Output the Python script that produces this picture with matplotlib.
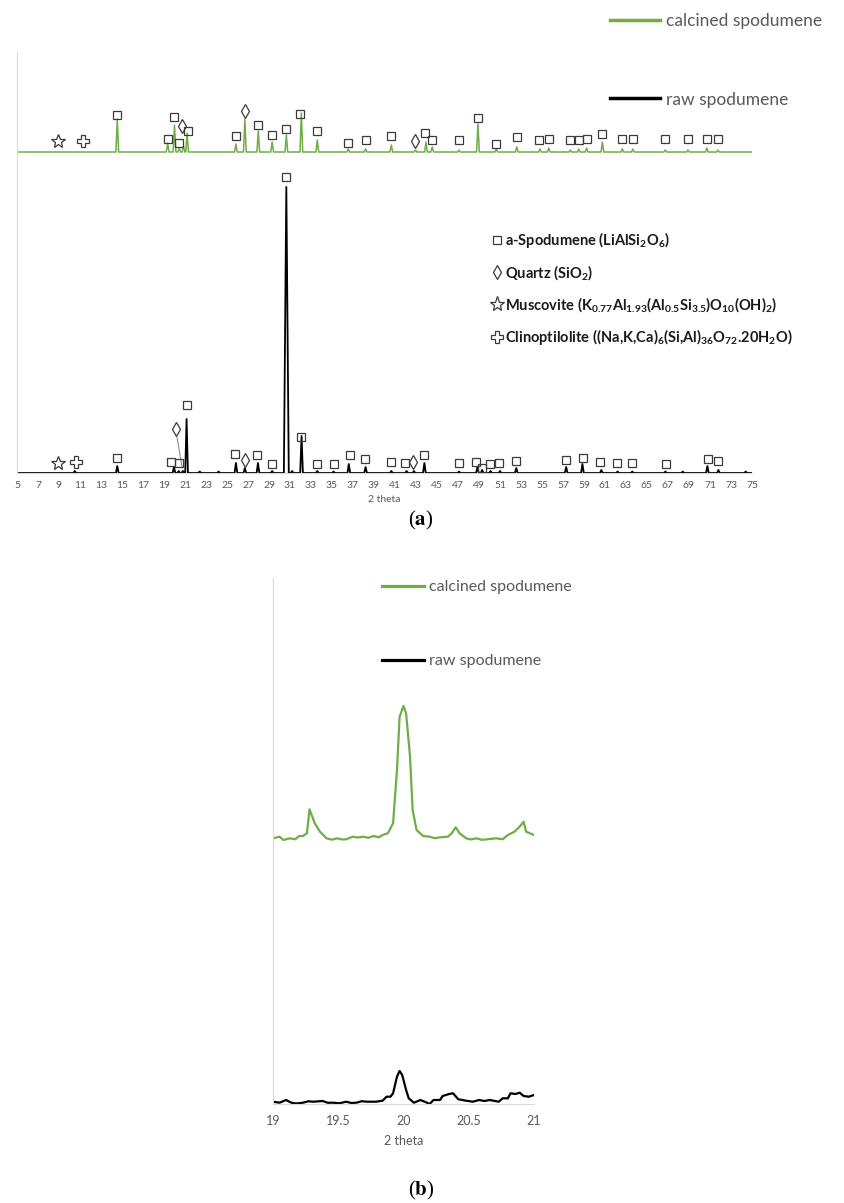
import matplotlib
matplotlib.use("Agg")
import matplotlib.pyplot as plt
from matplotlib.lines import Line2D

plt.rcParams['font.family'] = ['Lato', 'DejaVu Sans']
plt.rcParams['mathtext.fontset'] = 'custom'
plt.rcParams['mathtext.rm'] = 'Lato:bold'
plt.rcParams['mathtext.bf'] = 'Lato:bold'
plt.rcParams['mathtext.default'] = 'bf'

GREEN = '#70ad47'
AXIS = '#d9d9d9'
TXT = '#595959'
MARK = '#3a3a3a'

##############################################################################
# data: panel (a) full scan, peak positions (2 theta) and heights (a.u.)
##############################################################################

raw_pos = [10.5, 14.55, 19.95, 20.4, 20.8, 21.15, 22.4, 24.2, 25.85, 26.7, 27.95,
           29.3, 30.65, 31.2, 32.1, 33.6, 35.15, 36.6, 38.2, 40.65, 42.1, 42.8,
           43.8, 47.1, 48.85, 49.3, 50.1, 51.0, 52.55, 57.3, 58.85, 60.65, 62.2,
           63.6, 66.75, 68.4, 70.75, 71.8, 74.4]
raw_int = [2, 7, 6, 2, 2, 54, 1.5, 1.5, 10, 5, 10,
           2, 286, 2, 37, 2, 1.5, 9, 6, 2, 2, 2,
           10, 1.5, 6, 3, 2, 2, 5, 6, 9, 3, 1.5,
           1.5, 1.5, 1.5, 7, 3, 1.5]

calc_pos = [14.55, 19.35, 20.0, 20.45, 20.85, 21.2, 25.85, 26.7, 27.98, 29.3,
            30.65, 32.08, 33.6, 36.55, 38.2, 40.65, 42.95, 43.95, 44.55, 47.1,
            48.9, 50.65, 52.6, 54.8, 55.65, 57.7, 58.5, 59.25, 60.75, 62.65,
            63.65, 66.75, 68.9, 70.7, 71.75]
calc_int = [33, 9, 27, 4, 6, 19, 8, 33, 21, 10,
            17, 39, 12, 3, 3, 7, 2, 10, 5, 2,
            28, 3, 5, 3, 4, 2, 3, 4, 10, 3,
            3, 2, 2, 4, 2]

# phase labels (2 theta, level above the pattern's own baseline)
raw_spod_x = [14.5, 19.7, 20.45, 21.15, 25.75, 27.88, 29.26, 30.6, 32.09, 33.6,
              35.16, 36.68, 38.14, 40.6, 41.95, 43.79, 47.08, 48.74, 49.27, 50.07,
              50.95, 52.48, 57.3, 58.88, 60.57, 62.1, 63.58, 66.8, 70.78, 71.8]
raw_spod_y = [15.4, 11, 10, 67.7, 19.4, 18.4, 9.4, 295.7, 36, 9.4,
              9.4, 18.4, 14.4, 11, 10, 17.7, 10, 11, 5.4, 9.4,
              10, 12, 12.7, 15.4, 11, 10, 10, 9.4, 14.4, 12]
raw_qtz_x = [20.1, 26.76, 42.75]
raw_qtz_y = [44.4, 12.7, 11]
raw_mus_x, raw_mus_y = [8.93], [10]
raw_cli_x, raw_cli_y = [10.6], [11]

calc_spod_x = [14.55, 19.35, 19.97, 20.45, 21.33, 25.84, 27.98, 29.26, 30.66, 32.0,
               33.6, 36.5, 38.2, 40.65, 43.9, 44.55, 47.08, 48.9, 50.64, 52.6,
               54.76, 55.65, 57.68, 58.5, 59.26, 60.7, 62.63, 63.64, 66.75, 68.87,
               70.68, 71.73]
calc_spod_y = [37.4, 12.7, 35, 9.4, 21.4, 16, 27.4, 17.4, 22.7, 38.4,
               21.4, 9.4, 12, 15.7, 19.4, 11.7, 12, 34, 8.4, 14.7,
               12.4, 13, 12.4, 12.4, 13, 18.4, 13, 13, 13, 13,
               13, 13]
calc_qtz_x = [20.7, 26.72, 42.93]
calc_qtz_y = [25.7, 40.7, 11]
calc_mus_x, calc_mus_y = [8.93], [10.7]
calc_cli_x, calc_cli_y = [11.25], [10.7]

phase_labels = ['a-Spodumene (LiAlSi$_2$O$_6$)',
                'Quartz (SiO$_2$)',
                'Muscovite (K$_{0.77}$Al$_{1.93}$(Al$_{0.5}$Si$_{3.5}$)O$_{10}$(OH)$_2$)',
                'Clinoptilolite ((Na,K,Ca)$_6$(Si,Al)$_{36}$O$_{72}$.20H$_2$O)']
series_labels = ['calcined spodumene', 'raw spodumene']

##############################################################################
# data: panel (b) zoom 19-21 deg, read point by point
##############################################################################

zoom_calc_x = [19.0, 19.05, 19.08, 19.13, 19.17, 19.2, 19.23, 19.26, 19.28, 19.32,
               19.36, 19.41, 19.45, 19.49, 19.53, 19.56, 19.61, 19.65, 19.69, 19.73,
               19.77, 19.81, 19.84, 19.88, 19.92, 19.95, 19.97, 20.0, 20.02, 20.05,
               20.07, 20.1, 20.15, 20.2, 20.24, 20.28, 20.34, 20.37, 20.4, 20.43,
               20.48, 20.52, 20.56, 20.6, 20.64, 20.71, 20.76, 20.8, 20.85, 20.89,
               20.92, 20.94, 21.0]
zoom_calc_y = [0.7, 2.3, -1, 0.7, -0.3, 3, 3, 5.7, 29.7, 15.7,
               7.3, 0.7, -0.7, 0.7, -0.5, -0.3, 2.3, 1.5, 2.3, 1.2,
               3, 1.7, 4, 5.7, 15.7, 69, 122.3, 133, 125.7, 82.3,
               29, 9, 3, 2.3, 0.8, 1.7, 2.3, 5.7, 11.7, 5.7,
               0.7, -0.5, 0.7, -0.8, -0.3, 0.7, -0.3, 4, 7.3, 12.3,
               17.3, 7.3, 4]

zoom_raw_x = [19.0, 19.05, 19.1, 19.14, 19.18, 19.23, 19.27, 19.31, 19.38, 19.42,
              19.46, 19.51, 19.56, 19.6, 19.64, 19.68, 19.72, 19.79, 19.84, 19.87,
              19.9, 19.92, 19.95, 19.97, 19.99, 20.02, 20.04, 20.08, 20.13, 20.18,
              20.2, 20.23, 20.28, 20.3, 20.35, 20.38, 20.42, 20.48, 20.53, 20.58,
              20.62, 20.66, 20.73, 20.76, 20.8, 20.82, 20.86, 20.89, 20.92, 20.96,
              21.0]
zoom_raw_y = [2.3, 1.3, 4, 1.3, 0.5, 1.3, 2.7, 2.3, 3, 1.2,
              1.3, 0.7, 2.3, 1.0, 1.3, 2.8, 2.3, 2.3, 3.3, 7.3,
              7.3, 10.7, 27.3, 33, 29, 14, 5.7, 1.3, 4, 1.3,
              0, 4, 4, 8, 10, 10.7, 4.7, 3.3, 2.3, 4,
              3, 4, 2.3, 5.7, 5.7, 10.7, 10, 11.3, 8, 7.3,
              9]

##############################################################################
# helpers
##############################################################################

def spike_trace(pos, inten, lo, hi, base, halfwidth=0.13):
    xs, ys = [lo], [base]
    for p, h in zip(pos, inten):
        w = halfwidth * (1.8 if h > 200 else 1.0)
        xs += [p - w, p, p + w]
        ys += [base, base + h, base]
    xs.append(hi)
    ys.append(base)
    return xs, ys


def style_axis(ax):
    for s in ['top', 'right']:
        ax.spines[s].set_visible(False)
    ax.spines['left'].set_color(AXIS)
    ax.spines['bottom'].set_color(AXIS)
    ax.set_yticks([])
    ax.tick_params(axis='x', length=0, colors=TXT)


def put_marks(ax, xs, ys, base, marker, ms):
    ax.plot(xs, [base + y for y in ys], ls='none', marker=marker, ms=ms,
            mfc='none', mec=MARK, mew=0.9, zorder=5, clip_on=False)


MARKS = [('s', 6.3), ('d', 7.5), ('*', 10), ('P', 8)]

fig = plt.figure(figsize=(8.45, 12.03), dpi=100)
W, H = 845.0, 1203.0

##############################################################################
# (a)
##############################################################################
ax_a = fig.add_axes([17 / W, 1 - 473 / H, 735 / W, 421 / H])
style_axis(ax_a)
calc_off = 321

gx, gy = spike_trace(calc_pos, calc_int, 5, 75, calc_off)
rx, ry = spike_trace(raw_pos, raw_int, 5, 75, 0)
ax_a.plot(gx, gy, color=GREEN, lw=1.1)
ax_a.plot(rx, ry, color='black', lw=1.3)

raw_sets = [(raw_spod_x, raw_spod_y), (raw_qtz_x, raw_qtz_y),
            (raw_mus_x, raw_mus_y), (raw_cli_x, raw_cli_y)]
calc_sets = [(calc_spod_x, calc_spod_y), (calc_qtz_x, calc_qtz_y),
             (calc_mus_x, calc_mus_y), (calc_cli_x, calc_cli_y)]
for base, sets in [(0, raw_sets), (calc_off, calc_sets)]:
    for (xs, ys), (m, ms) in zip(sets, MARKS):
        put_marks(ax_a, xs, ys, base, m, ms)

# leader from the quartz mark to its peak
ax_a.annotate('', xy=(20.77, 2.7), xytext=(20.19, 38.7),
              arrowprops=dict(arrowstyle='-', color='#808080', lw=0.7))

ax_a.set_xlim(5, 75)
ax_a.set_ylim(0, 421)
ax_a.set_xticks(range(5, 76, 2))
ax_a.tick_params(axis='x', labelsize=7.5, pad=6)
ax_a.set_xlabel('2 theta', fontsize=7.5, color=TXT, labelpad=3)

series_handles = [Line2D([], [], color=GREEN, lw=2.5), Line2D([], [], color='black', lw=2.5)]
fig.legend(series_handles, series_labels, loc='upper left',
           bbox_to_anchor=(610 / W, 1 - 13 / H), frameon=False, fontsize=12.5,
           handlelength=2.9, handletextpad=0.3, labelspacing=3.6, borderpad=0,
           borderaxespad=0, labelcolor=TXT)

phase_handles = [Line2D([], [], ls='none', marker=m, ms=ms + (1 if m in '*P' else 0),
                        mfc='none', mec=MARK, mew=0.9) for m, ms in MARKS]
leg = fig.legend(phase_handles, phase_labels, loc='upper left',
                 bbox_to_anchor=(490 / W, 1 - 230 / H), frameon=False, fontsize=10.5,
                 handlelength=0.9, handletextpad=0.15, labelspacing=0.9, borderpad=0,
                 borderaxespad=0, labelcolor='#1a1a1a')
for t in leg.get_texts():
    t.set_fontweight('bold')

fig.text(421 / W, 1 - 520 / H, '($a$)', ha='center', va='center', fontsize=15,
         family='Liberation Serif', math_fontfamily='stix')

##############################################################################
# (b)
##############################################################################
ax_b = fig.add_axes([273 / W, 1 - 1104 / H, 261 / W, 526 / H])
style_axis(ax_b)
zoom_off = 265
ax_b.plot(zoom_calc_x, [zoom_off + v for v in zoom_calc_y], color=GREEN, lw=1.6)
ax_b.plot(zoom_raw_x, zoom_raw_y, color='black', lw=1.6)
ax_b.set_xlim(19, 21)
ax_b.set_ylim(0, 526)
ax_b.set_xticks([19, 19.5, 20, 20.5, 21])
ax_b.set_xticklabels(['19', '19.5', '20', '20.5', '21'])
ax_b.tick_params(axis='x', labelsize=9, pad=8)
ax_b.set_xlabel('2 theta', fontsize=9, color=TXT, labelpad=6)
ax_b.legend([Line2D([], [], color=GREEN, lw=2.3), Line2D([], [], color='black', lw=2.3)],
            series_labels, loc='upper left', bbox_to_anchor=(382 / W, 1 - 580 / H),
            bbox_transform=fig.transFigure, frameon=False, fontsize=11.5,
            handlelength=2.6, handletextpad=0.35, labelspacing=3.75, borderpad=0,
            borderaxespad=0, labelcolor=TXT)

fig.text(421 / W, 1 - 1190 / H, '($b$)', ha='center', va='center', fontsize=15,
         family='Liberation Serif', math_fontfamily='stix')

fig.savefig('out.png', dpi=100)
